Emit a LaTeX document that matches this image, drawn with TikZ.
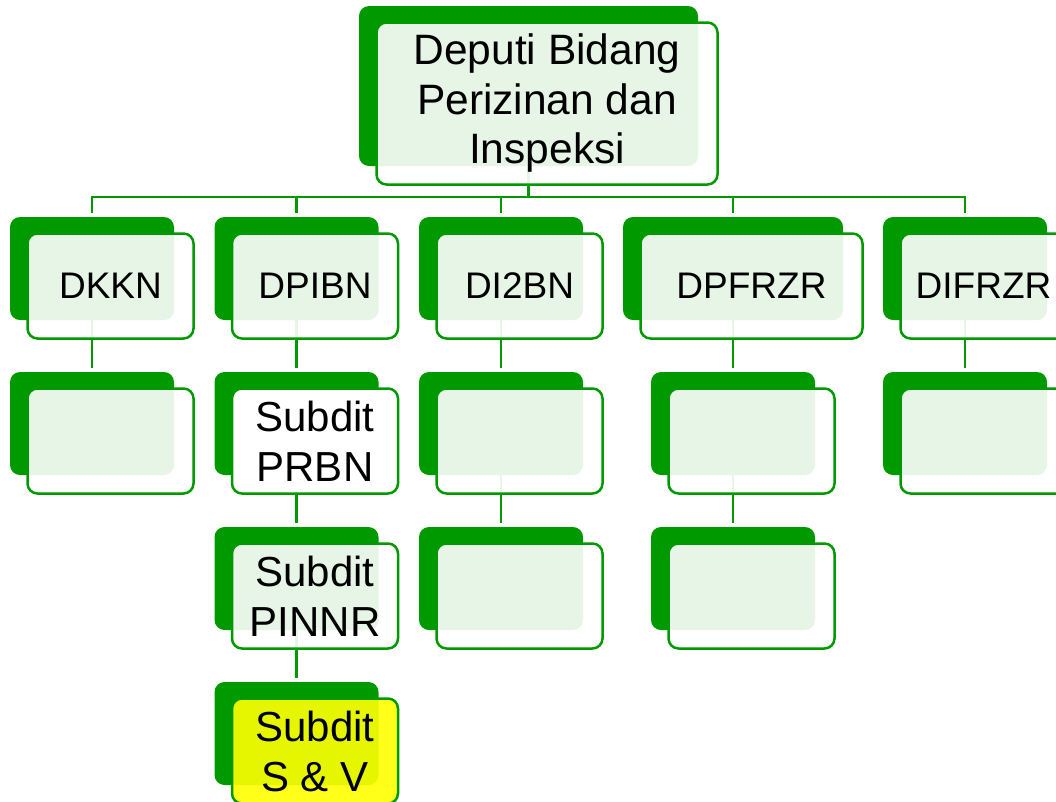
\documentclass[tikz,border=0pt]{standalone}
\usepackage{fontspec}
\setmainfont{Liberation Sans}
\usetikzlibrary{calc}
\pgfdeclarelayer{links}
\pgfsetlayers{links,main}
\definecolor{dkgreen}{RGB}{0,153,0}
\definecolor{hiyellow}{RGB}{255,255,0}
\tikzset{
  backbox/.style={fill=dkgreen, rounded corners=10pt, inner sep=0pt},
  frontbox/.style={draw=dkgreen, line width=2.5pt, fill=white, fill opacity=0.9,
    text opacity=1, rounded corners=10pt, inner sep=0pt, align=center, text=black},
  plainbox/.style={frontbox, fill opacity=1},
  markbox/.style={frontbox, fill=hiyellow},
  conn/.style={draw=dkgreen, line width=2.5pt},
  headfont/.style={font=\fontsize{42.5}{49.5}\selectfont},
  unitfont/.style={font=\fontsize{37}{44}\selectfont},
  subfont/.style={font=\fontsize{42}{50}\selectfont},
}
% #1 name, #2/#3 centre of the shadow block, #4/#5 its size,
% #6 style of the front card, #7 label
\newcommand{\orgunit}[7]{%
  \node[backbox, minimum width=#4pt, minimum height=#5pt] (#1-back) at (#2,#3) {};
  \node[#6, minimum width=#4pt+2pt, minimum height=#5pt+2pt] (#1) at ($(#1-back)+(18.5,17.5)$) {#7};
}
\begin{document}
\begin{tikzpicture}[x=1pt,y=-1pt]
\useasboundingbox (0,0) rectangle (1056,801);
\clip (0,0) rectangle (1056,801);

% head
\orgunit{top}{528.5}{86}{339}{160}{frontbox,headfont}{Deputi Bidang\\Perizinan dan\\Inspeksi}

% directorates
\orgunit{dkkn}{92}{268.5}{164}{103}{frontbox,unitfont}{DKKN}
\orgunit{dpibn}{296.5}{268.5}{164}{103}{frontbox,unitfont}{DPIBN}
\orgunit{di2bn}{501}{268.5}{164}{103}{frontbox,unitfont}{DI2BN}
\orgunit{dpfrzr}{733}{268.5}{220}{103}{frontbox,unitfont}{DPFRZR}
\orgunit{difrzr}{965}{268.5}{164}{103}{frontbox,unitfont}{DIFRZR}

% second level
\orgunit{dkkn1}{92}{423.5}{164}{103}{frontbox}{}
\orgunit{prbn}{296.5}{423.5}{164}{103}{plainbox,subfont}{Subdit\\PRBN}
\orgunit{di2bn1}{501}{423.5}{164}{103}{frontbox}{}
\orgunit{dpfrzr1}{733}{423.5}{164}{103}{frontbox}{}
\orgunit{difrzr1}{965}{423.5}{164}{103}{frontbox}{}

% third level
\orgunit{pinnr}{296.5}{578.5}{164}{103}{frontbox,subfont}{Subdit\\PINNR}
\orgunit{di2bn2}{501}{578.5}{164}{103}{frontbox}{}
\orgunit{dpfrzr2}{733}{578.5}{164}{103}{frontbox}{}

% fourth level
\orgunit{snv}{296.5}{733.5}{164}{103}{markbox,subfont}{Subdit\\S \& V}

\begin{pgfonlayer}{links}
  \coordinate (bus) at (528.5,197);
  \draw[conn] (top-back.south) -- (bus);
  \foreach \c in {dkkn,dpibn,di2bn,dpfrzr,difrzr}
    \draw[conn, shorten >=4pt] (bus) -| (\c-back.north);
  \draw[conn, shorten >=4pt] (dkkn-back) -- (dkkn1-back.north);
  \draw[conn, shorten >=4pt] (dpibn-back) -- (prbn-back.north);
  \draw[conn, shorten >=4pt] (prbn-back) -- (pinnr-back.north);
  \draw[conn, shorten >=4pt] (pinnr-back) -- (snv-back.north);
  \draw[conn, shorten >=4pt] (di2bn-back) -- (di2bn1-back.north);
  \draw[conn, shorten >=4pt] (di2bn1-back) -- (di2bn2-back.north);
  \draw[conn, shorten >=4pt] (dpfrzr-back) -- (dpfrzr1-back.north);
  \draw[conn, shorten >=4pt] (dpfrzr1-back) -- (dpfrzr2-back.north);
  \draw[conn, shorten >=4pt] (difrzr-back) -- (difrzr1-back.north);
\end{pgfonlayer}
\end{tikzpicture}
\end{document}
